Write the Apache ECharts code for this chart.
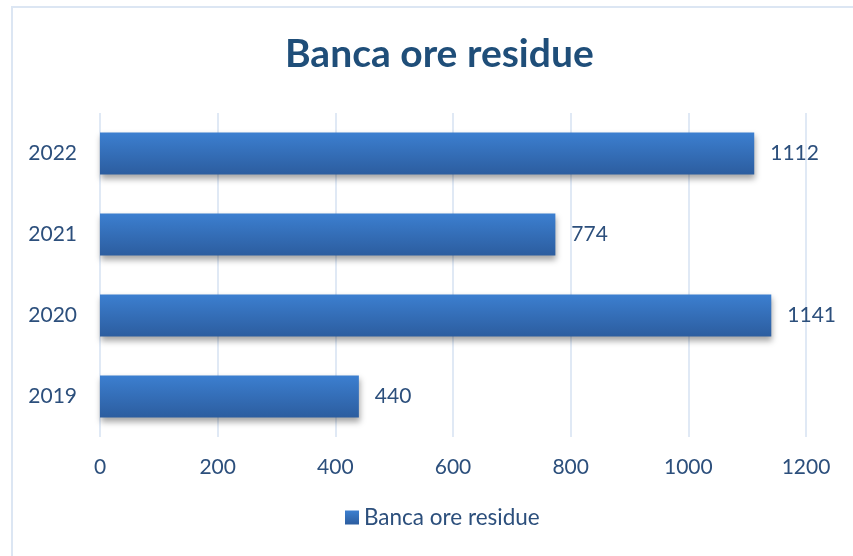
<!DOCTYPE html>
<html><head><meta charset="utf-8">
<script src="https://cdn.jsdelivr.net/npm/echarts@6/dist/echarts.min.js"></script>
<style>html,body{margin:0;padding:0;background:#fff}#c{width:853px;height:556px}</style>
</head><body><div id="c"></div>
<script>
var categories = ['2019', '2020', '2021', '2022'];
var values = [440, 1141, 774, 1112];
var seriesName = 'Banca ore residue';
var titleText = 'Banca ore residue';

var txt = '#2c4f7c';
var font = 'Lato';
var chart = echarts.init(document.getElementById('c'));
chart.setOption({
  animation: false,
  graphic: [{
    type: 'rect', shape: {x: 12, y: 7, width: 900, height: 600},
    style: {fill: 'none', stroke: '#dce6f3', lineWidth: 2}, z: -1
  }],
  title: {
    text: titleText, left: 280, top: 30,
    textStyle: {color: '#1f4e79', fontFamily: font, fontWeight: 'bold', fontSize: 39}
  },
  legend: {
    bottom: 22, left: 340, icon: 'rect', itemWidth: 14, itemHeight: 14, itemGap: 6,
    textStyle: {color: txt, fontFamily: font, fontSize: 22.5},
    data: [seriesName]
  },
  grid: {left: 100, right: 47, top: 113, bottom: 119, containLabel: false},
  xAxis: {
    type: 'value', min: 0, max: 1200, interval: 200,
    axisLine: {show: false}, axisTick: {show: false},
    axisLabel: {color: txt, fontFamily: font, fontSize: 21, margin: 20, formatter: function (v) { return String(v); }},
    splitLine: {lineStyle: {color: '#d6e2f2', width: 1.5}}
  },
  yAxis: {
    type: 'category', data: categories,
    axisLine: {show: false}, axisTick: {show: false},
    axisLabel: {color: txt, fontFamily: font, fontSize: 21, margin: 23}
  },
  series: [{
    type: 'bar', name: seriesName, data: values, barCategoryGap: '48%',
    itemStyle: {
      color: new echarts.graphic.LinearGradient(0, 0, 0, 1, [
        {offset: 0, color: '#3c7fd0'}, {offset: 1, color: '#2c5d9f'}
      ]),
      shadowColor: 'rgba(0,0,0,0.35)', shadowBlur: 6, shadowOffsetY: 4, shadowOffsetX: 1
    },
    label: {show: true, position: 'right', distance: 16, color: txt, fontFamily: font, fontSize: 21}
  }]
});
</script></body></html>
